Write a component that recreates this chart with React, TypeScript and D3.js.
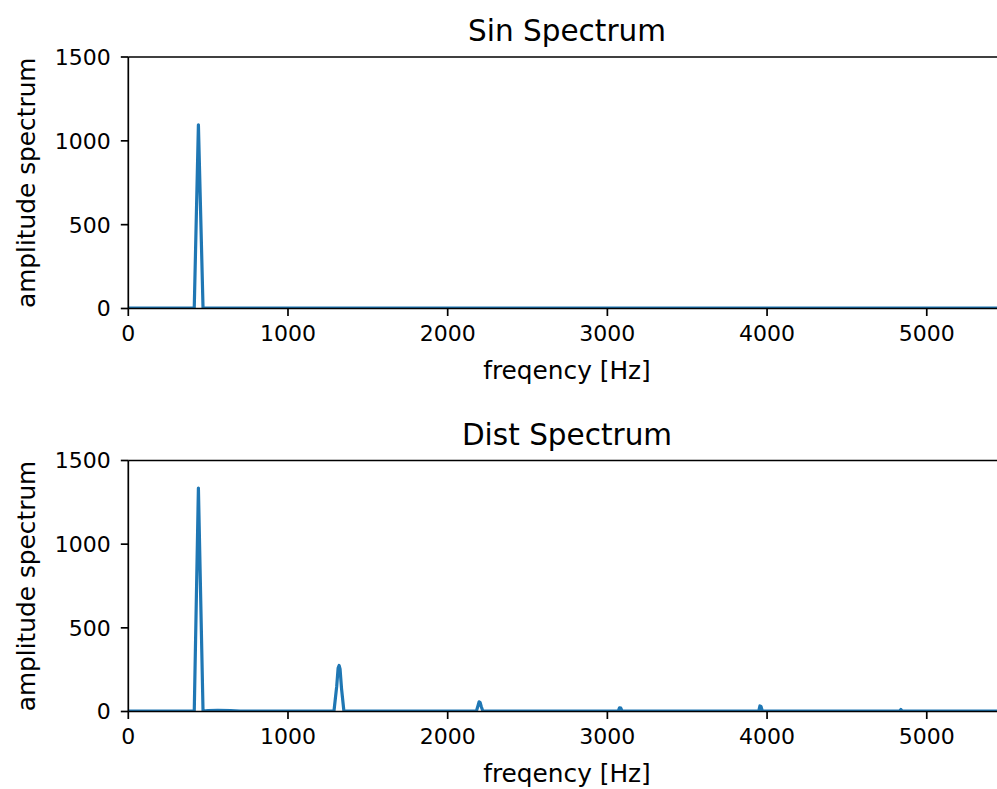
import React from "react";
import * as d3 from "d3";

// ---- data ----
const sinFreq = [0, 300, 413, 439, 468, 600, 5512.5];
const sinAmp = [3, 3, 3, 1095, 3, 3, 3];

const distFreq = [0, 300, 413, 439, 468, 500, 560, 640, 700, 1288, 1305, 1314, 1320, 1326, 1335, 1350, 2180, 2190, 2197, 2203, 2210, 2220, 3068, 3076, 3084, 3092, 3948, 3955, 3962, 3970, 4830, 4838, 4846, 5512.5];
const distAmp = [3, 3, 3, 1335, 3, 6, 7, 5, 3, 3, 150, 260, 275, 255, 140, 3, 3, 35, 58, 55, 30, 3, 3, 22, 20, 3, 3, 33, 30, 3, 3, 12, 3, 3];

const xTicks = [0, 1000, 2000, 3000, 4000, 5000];
const yTicks = [0, 500, 1000, 1500];
const titles = ["Sin Spectrum", "Dist Spectrum"];
const xLabel = "freqency [Hz]";
const yLabel = "amplitude spectrum";

const W = 997;
const H = 789;
const left = 128.3;
const right = 1008.6;
const panels = [
  { top: 57, bottom: 308.5, freq: sinFreq, amp: sinAmp, title: titles[0] },
  { top: 460.5, bottom: 711.5, freq: distFreq, amp: distAmp, title: titles[1] },
];
const font = "DejaVu Sans, sans-serif";
const tickFs = 22;
const labelFs = 24.8;
const titleFs = 29.5;
const color = "#1f77b4";

export default function App() {
  const x = d3.scaleLinear().domain([0, 5512.5]).range([left, right]);
  return (
    <div style={{ position: "absolute", left: 0, top: 0 }}>
      <svg width={W} height={H} style={{ display: "block", background: "#fff" }}>
        {panels.map((p, i) => {
          const y = d3.scaleLinear().domain([0, 1500]).range([p.bottom, p.top]);
          const pts: [number, number][] = p.freq.map((f, j) => [f, p.amp[j]]);
          const line = d3
            .line<[number, number]>()
            .x((d) => x(d[0]))
            .y((d) => y(d[1]));
          const cid = `clip${i}`;
          return (
            <g key={i}>
              <clipPath id={cid}>
                <rect x={left} y={p.top} width={right - left} height={p.bottom - p.top} />
              </clipPath>
              <path d={line(pts) || ""} fill="none" stroke={color} strokeWidth={3.2} strokeLinejoin="round" clipPath={`url(#${cid})`} />
              {/* spines */}
              <line x1={left} x2={right} y1={p.top} y2={p.top} stroke="#000" strokeWidth={1.7} />
              <line x1={left} x2={right} y1={p.bottom} y2={p.bottom} stroke="#000" strokeWidth={1.7} />
              <line x1={left} x2={left} y1={p.top} y2={p.bottom} stroke="#000" strokeWidth={1.7} />
              <line x1={right} x2={right} y1={p.top} y2={p.bottom} stroke="#000" strokeWidth={1.7} />
              {/* x ticks */}
              {xTicks.map((t) => (
                <g key={t}>
                  <line x1={x(t)} x2={x(t)} y1={p.bottom} y2={p.bottom + 7.5} stroke="#000" strokeWidth={1.7} />
                  <text x={x(t)} y={p.bottom + 32.5} textAnchor="middle" fontFamily={font} fontSize={tickFs} fill="#000">
                    {t}
                  </text>
                </g>
              ))}
              {/* y ticks */}
              {yTicks.map((t) => (
                <g key={t}>
                  <line x1={left - 7.5} x2={left} y1={y(t)} y2={y(t)} stroke="#000" strokeWidth={1.7} />
                  <text x={left - 17.5} y={y(t)} dy="0.36em" textAnchor="end" fontFamily={font} fontSize={tickFs} fill="#000">
                    {t}
                  </text>
                </g>
              ))}
              <text x={567} y={p.bottom + 70.5} textAnchor="middle" fontFamily={font} fontSize={labelFs} fill="#000">
                {xLabel}
              </text>
              <text
                transform={`translate(35,${(p.top + p.bottom) / 2}) rotate(-90)`}
                textAnchor="middle"
                fontFamily={font}
                fontSize={labelFs}
                fill="#000"
              >
                {yLabel}
              </text>
              <text x={567} y={p.top - 16} textAnchor="middle" fontFamily={font} fontSize={titleFs} fill="#000">
                {p.title}
              </text>
            </g>
          );
        })}
      </svg>
    </div>
  );
}
